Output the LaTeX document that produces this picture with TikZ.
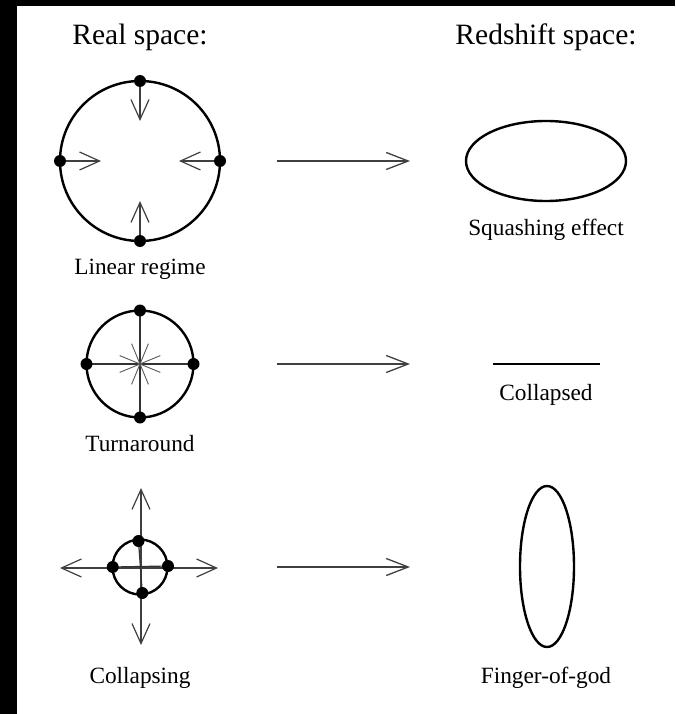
\documentclass[tikz,border=0pt]{standalone}
\usepackage{fontspec}
\setmainfont{Liberation Serif}
\usetikzlibrary{arrows.meta}
\tikzset{
  ring/.style={line width=2.4pt, draw=black},
  dotmark/.style={fill=black, draw=none},
  inarrow/.style={line width=1.2pt, draw=black!75, -{Straight Barb[length=20pt,width=18pt,line width=1.2pt]}},
  maparrow/.style={line width=1.3pt, draw=black!75, -{Straight Barb[length=22pt,width=17pt,line width=1.3pt]}},
  spoke/.style={line width=0.9pt, draw=black!65},
  diam/.style={line width=1.2pt, draw=black!80},
  title/.style={font=\fontsize{29.5}{34}\selectfont, anchor=base, inner sep=0pt},
  label/.style={font=\fontsize{23.3}{27}\selectfont, anchor=base, inner sep=0pt},
}
\begin{document}
\begin{tikzpicture}[x=1pt,y=-1pt]
\fill[white] (0,0) rectangle (675,714);
\useasboundingbox (0,0) rectangle (675,714);
\fill[black] (0,0) rectangle (17,714);
\fill[black] (0,0) rectangle (675,6);

% titles
\node[title] (treal) at (140,45) {Real space:};
\node[title] (tred) at (546,45) {Redshift space:};

% ---- Row 1: linear regime
\coordinate (c1) at (140,161);
\draw[ring] (c1) circle (80);
\coordinate (c1l) at (60,161);
\coordinate (c1r) at (220,161);
\coordinate (c1t) at (140,81);
\coordinate (c1b) at (140,241);
\coordinate (c1la) at (101,161);
\coordinate (c1ra) at (179,161);
\coordinate (c1ta) at (140,121);
\coordinate (c1ba) at (140,201);
\draw[inarrow] (c1l) -- (c1la);
\draw[inarrow] (c1r) -- (c1ra);
\draw[inarrow] (c1t) -- (c1ta);
\draw[inarrow] (c1b) -- (c1ba);
\foreach \p in {c1l,c1r,c1t,c1b} \fill[dotmark] (\p) circle (6);
\node[label] (l1) at (140,274) {Linear regime};

\coordinate (m1a) at (277,161);
\coordinate (m1b) at (410,161);
\draw[maparrow] (m1a) -- (m1b);

\coordinate (e1) at (546,161);
\draw[ring] (e1) ellipse (80 and 40);
\node[label] (r1) at (546,235) {Squashing effect};

% ---- Row 2: turnaround
\coordinate (c2) at (140,364);
\draw[ring] (c2) circle (53.5);
\coordinate (c2l) at (86.5,364);
\coordinate (c2r) at (193.5,364);
\coordinate (c2t) at (140,310.5);
\coordinate (c2b) at (140,417.5);
\draw[diam] (c2l) -- (c2r);
\draw[diam] (c2t) -- (c2b);
\foreach \a in {22.5,67.5,112.5,157.5,202.5,247.5,292.5,337.5}
  \draw[spoke] (c2) -- ++(\a:22);
\foreach \p in {c2l,c2r,c2t,c2b} \fill[dotmark] (\p) circle (6);
\node[label] (l2) at (140,451) {Turnaround};

\coordinate (m2a) at (277,364);
\coordinate (m2b) at (410,364);
\draw[maparrow] (m2a) -- (m2b);

\coordinate (s2a) at (493,364);
\coordinate (s2b) at (600,364);
\draw[line width=2.6pt] (s2a) -- (s2b);
\node[label] (r2) at (546,400) {Collapsed};

% ---- Row 3: collapsing
\coordinate (c3) at (140,567);
\draw[ring] (c3) circle (27.5);
\coordinate (c3x) at (141,568);
\coordinate (c3up) at (141,488);
\coordinate (c3dn) at (141,645);
\coordinate (c3lf) at (60,568);
\coordinate (c3rt) at (218,568);
\draw[inarrow] (c3x) -- (c3up);
\draw[inarrow] (c3x) -- (c3dn);
\draw[inarrow] (c3x) -- (c3lf);
\draw[inarrow] (c3x) -- (c3rt);
\coordinate (c3l) at (112.7,567);
\coordinate (c3r) at (168,566);
\coordinate (c3t) at (138.5,541);
\coordinate (c3b) at (142.3,593);
\draw[diam] (c3l) -- (c3r);
\draw[diam] (c3t) -- (c3b);
\foreach \p in {c3l,c3r,c3t,c3b} \fill[dotmark] (\p) circle (6);
\node[label] (l3) at (140,683) {Collapsing};

\coordinate (m3a) at (277,567);
\coordinate (m3b) at (410,567);
\draw[maparrow] (m3a) -- (m3b);

\coordinate (e3) at (547,566.5);
\draw[ring] (e3) ellipse (27 and 80.5);
\node[label] (r3) at (546,683) {Finger-of-god};
\end{tikzpicture}
\end{document}
